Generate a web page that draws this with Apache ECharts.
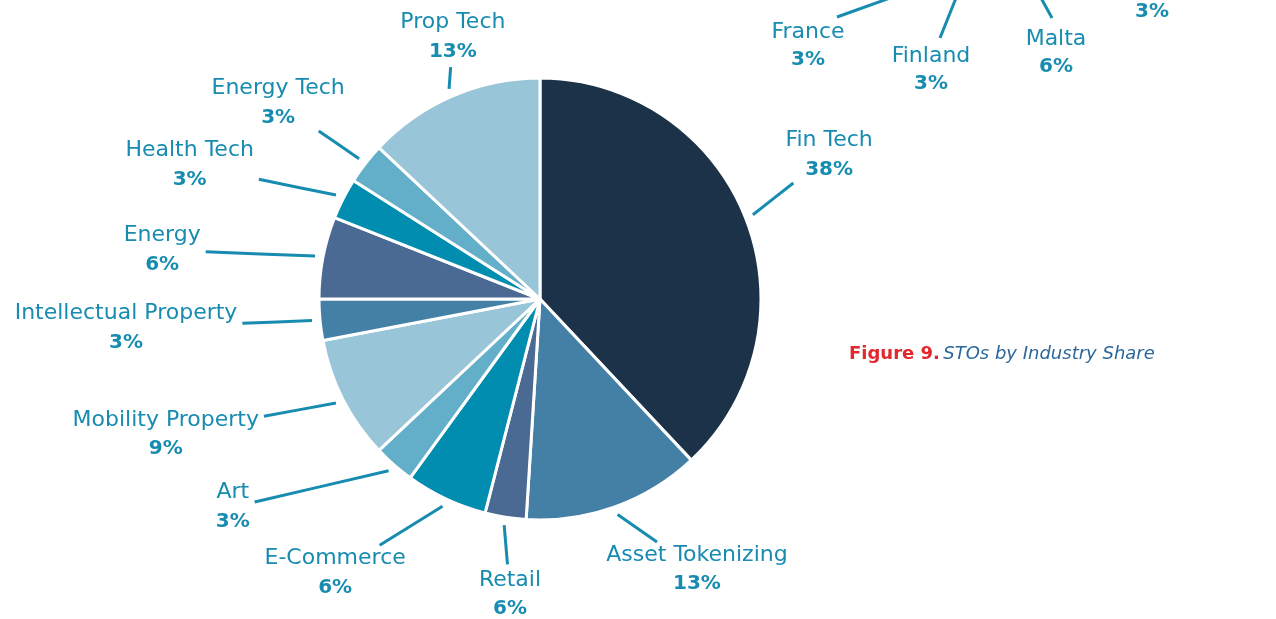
<!DOCTYPE html>
<html><head><meta charset="utf-8">
<script src="https://cdn.jsdelivr.net/npm/echarts@6/dist/echarts.min.js"></script>
<style>html,body{margin:0;padding:0;background:#fff}#c{width:1276px;height:619px}</style>
</head><body><div id="c"></div>
<script>
// ---- data ----
const categories = ['Fin Tech','Asset Tokenizing','Retail','E-Commerce','Art','Mobility Property','Intellectual Property','Energy','Health Tech','Energy Tech','Prop Tech'];
const sliceValues = [38,13,3,6,3,9,3,6,3,3,13];          // slice sizes as drawn
const shareLabels = ['38%','13%','6%','6%','3%','9%','3%','6%','3%','3%','13%']; // printed labels
// partial labels of the neighbouring (cropped) chart at the top
const topNames = ['France','Finland','Malta',''];
const topShares = ['3%','3%','6%','3%'];

// ---- styles / layout ----
const sliceColors = ['#1b3249','#4480a6','#4a6993','#008db0','#63aec8','#98c5d7','#4480a6','#4a6993','#008db0','#63aec8','#98c5d7'];
const labelPolar = [[63.5,323],[149.9,313],[185.8,297],[216.8,342],[235.9,371],[250.1,398],[266,415],[277.4,381],[290.9,375],[306.8,327],[341.6,276]];
const CX = 540, CY = 299, R = 221;
const FONT = '"DejaVu Sans", "Open Sans", sans-serif';
const TXT = '#178cb0';
const topPos = [[808,32,60],[931,56,84],[1056,39,67],[1152,null,12]];
const topLines = [[[837,17],[890,-2]],[[940,38],[956,-2]],[[1052,18],[1041,-2]]];

const total = sliceValues.reduce((a,b)=>a+b,0);
const midAngles = [];
(function(){ let cum = 0; sliceValues.forEach(v=>{ midAngles.push((cum + v/2)/total*360); cum += v; }); })();

const chart = echarts.init(document.getElementById('c'), null, {renderer:'canvas'});

const graphics = [];
topNames.forEach((n,i)=>{
  const p = topPos[i];
  if (n) graphics.push({type:'text', x:p[0], y:p[1], style:{text:n, fill:TXT, font:'22px '+FONT, textAlign:'center', textVerticalAlign:'middle'}});
  graphics.push({type:'text', x:p[0], y:p[2], style:{text:topShares[i], fill:TXT, font:'bold 20px '+FONT, textAlign:'center', textVerticalAlign:'middle'}});
});
topLines.forEach(l=>{
  graphics.push({type:'line', shape:{x1:l[0][0],y1:l[0][1],x2:l[1][0],y2:l[1][1]}, style:{stroke:TXT, lineWidth:3}});
});
graphics.push({type:'text', x:849, y:354, style:{
  text:'{a|Figure 9.} {b|STOs by Industry Share}', textVerticalAlign:'middle',
  rich:{a:{fill:'#e2272d', fontWeight:'bold', fontSize:18, fontFamily:FONT},
        b:{fill:'#2a679b', fontStyle:'italic', fontSize:18, fontFamily:FONT}}
}});

chart.setOption({
  backgroundColor:'#fff',
  animation:false,
  graphic: graphics,
  series:[{
    type:'pie',
    center:[CX,CY], radius:R, startAngle:90, clockwise:true,
    avoidLabelOverlap:false,
    itemStyle:{borderColor:'#fff', borderWidth:3},
    emphasis:{disabled:true},
    label:{
      show:true, position:'outside',
      formatter: p => '{n|' + p.name + '}\n{p|' + shareLabels[p.dataIndex] + '}',
      rich:{
        n:{fontSize:22, fontFamily:FONT, color:TXT, lineHeight:29, align:'center'},
        p:{fontSize:20, fontFamily:FONT, fontWeight:'bold', color:TXT, lineHeight:29, align:'center'}
      }
    },
    labelLine:{show:true, length:10, length2:10, lineStyle:{color:TXT, width:3}},
    labelLayout: function(params){
      const i = params.dataIndex;
      const ang = labelPolar[i][0]*Math.PI/180, dist = labelPolar[i][1];
      const px = CX + Math.sin(ang)*dist, py = CY - Math.cos(ang)*dist;
      const m = midAngles[i]*Math.PI/180;
      const sx = CX + Math.sin(m)*(R+8), sy = CY - Math.cos(m)*(R+8);
      const dx = px - sx, dy = py - sy, len = Math.hypot(dx,dy);
      const ux = dx/len, uy = dy/len;
      const hw = params.labelRect.width/2, hh = params.labelRect.height/2;
      const edx = Math.abs(ux) > 1e-6 ? hw/Math.abs(ux) : Infinity;
      const edy = Math.abs(uy) > 1e-6 ? hh/Math.abs(uy) : Infinity;
      const edge = Math.min(edx, edy) + 5;
      const ex = px - ux*edge, ey = py - uy*edge;
      return {
        x:px, y:py, align:'center', verticalAlign:'middle',
        labelLinePoints:[[sx,sy],[(sx+ex)/2,(sy+ey)/2],[ex,ey]]
      };
    },
    data: categories.map((c,i)=>({name:c, value:sliceValues[i], itemStyle:{color:sliceColors[i]}}))
  }]
});
</script>
</body></html>
